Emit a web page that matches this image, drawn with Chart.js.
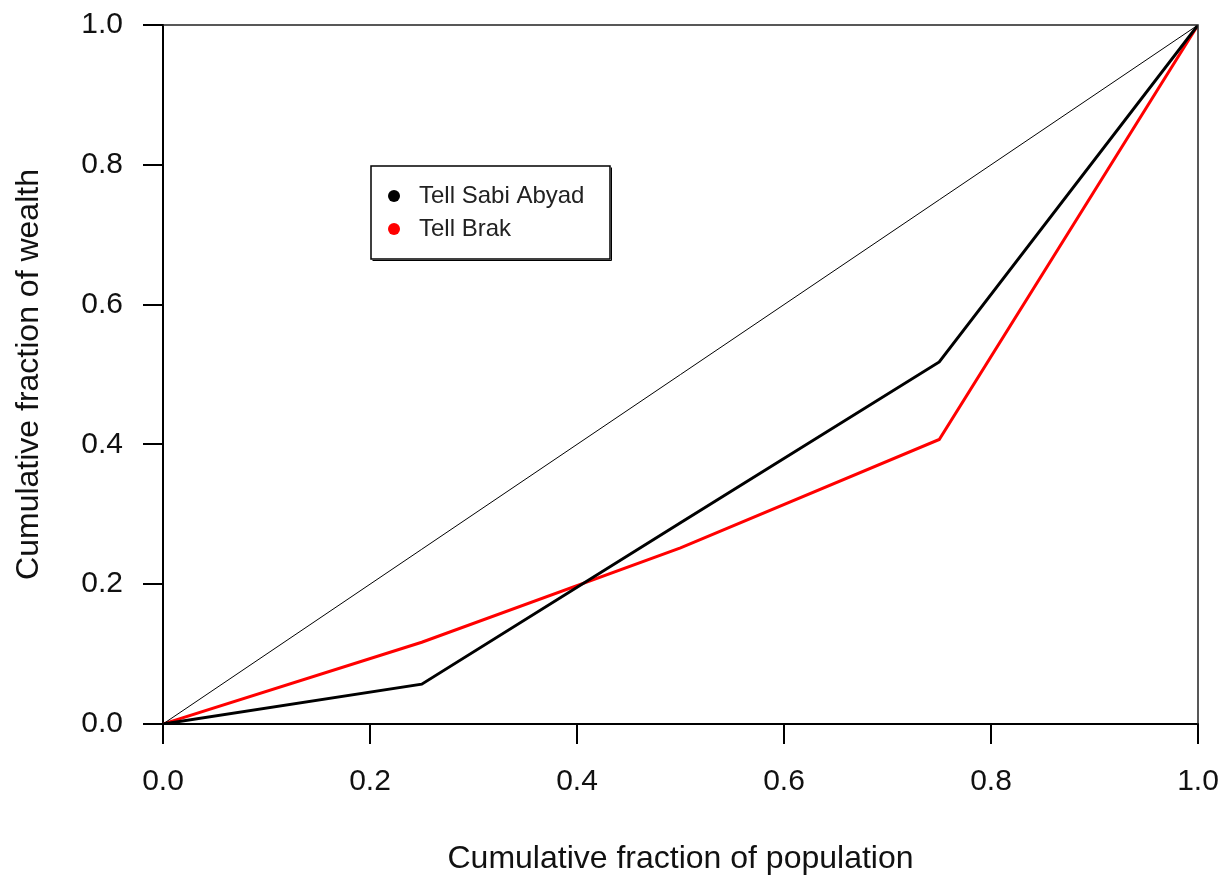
<!DOCTYPE html>
<html>
<head>
<meta charset="utf-8">
<script src="https://cdn.jsdelivr.net/npm/chart.js@4.4.1/dist/chart.umd.min.js"></script>
<style>
  html, body { margin: 0; padding: 0; background: #fff; }
  #wrap { width: 1229px; height: 879px; position: relative; }
</style>
</head>
<body>
<div id="wrap"><canvas id="c"></canvas></div>
<script>
// ---- data ----
const population = [0, 0.25, 0.5, 0.75, 1];
const sabiAbyad = [0, 0.057, 0.288, 0.518, 1];
const brak = [0, 0.117, 0.252, 0.407, 1];
const equalityX = [0, 1];
const equalityY = [0, 1];
const xTicks = [0, 0.2, 0.4, 0.6, 0.8, 1.0];
const yTicks = [0, 0.2, 0.4, 0.6, 0.8, 1.0];
const seriesNames = ['Tell Sabi Abyad', 'Tell Brak'];
const seriesColors = ['#000000', '#ff0000'];

const toPts = (xs, ys) => xs.map((x, i) => ({x: x, y: ys[i]}));

const FONT = '"Liberation Sans", Arial, sans-serif';

const framePlugin = {
  id: 'frame',
  afterDraw(chart) {
    const {ctx, chartArea: a} = chart;
    ctx.save();
    ctx.strokeStyle = '#222';
    ctx.lineWidth = 1.5;
    ctx.beginPath();
    ctx.moveTo(a.left, a.top);
    ctx.lineTo(a.right, a.top);
    ctx.lineTo(a.right, a.bottom);
    ctx.stroke();
    // legend
    const bx = 371, by = 166, bw = 239, bh = 93;
    ctx.fillStyle = '#fff';
    ctx.fillRect(bx, by, bw, bh);
    ctx.strokeStyle = '#000';
    ctx.lineWidth = 1.5;
    ctx.strokeRect(bx, by, bw, bh);
    ctx.lineWidth = 1;
    ctx.beginPath();
    ctx.moveTo(bx + 1.5, by + bh + 1.5);
    ctx.lineTo(bx + bw + 1.5, by + bh + 1.5);
    ctx.lineTo(bx + bw + 1.5, by + 1.5);
    ctx.stroke();
    ctx.font = '24px ' + FONT;
    ctx.textBaseline = 'middle';
    ctx.textAlign = 'left';
    const rows = [196, 229];
    seriesNames.forEach((name, i) => {
      ctx.fillStyle = seriesColors[i];
      ctx.beginPath();
      ctx.arc(394, rows[i], 6, 0, Math.PI * 2);
      ctx.fill();
      ctx.fillStyle = '#222';
      ctx.fillText(name, 419, rows[i]);
    });
    ctx.restore();
  }
};

new Chart(document.getElementById('c'), {
  type: 'scatter',
  data: {
    datasets: [
      {
        label: 'equality',
        data: toPts(equalityX, equalityY),
        showLine: true,
        borderColor: '#000',
        borderWidth: 1,
        pointRadius: 0,
        fill: false
      },
      {
        label: seriesNames[0],
        data: toPts(population, sabiAbyad),
        showLine: true,
        borderColor: seriesColors[0],
        borderWidth: 3,
        pointRadius: 0,
        fill: false
      },
      {
        label: seriesNames[1],
        data: toPts(population, brak),
        showLine: true,
        borderColor: seriesColors[1],
        borderWidth: 3,
        pointRadius: 0,
        fill: false
      }
    ]
  },
  options: {
    responsive: true,
    maintainAspectRatio: false,
    animation: false,
    layout: { padding: { top: 25, right: 31, left: 0, bottom: 0 } },
    plugins: { legend: { display: false }, tooltip: { enabled: false } },
    scales: {
      x: {
        type: 'linear',
        min: 0, max: 1,
        afterBuildTicks(scale) { scale.ticks = xTicks.map(v => ({value: v})); },
        afterFit(scale) { scale.height = 155; scale.paddingLeft = 0; scale.paddingRight = 0; },
        ticks: {
          callback: v => Number(v).toFixed(1),
          color: '#111',
          font: { family: FONT, size: 30 },
          padding: 20,
          maxRotation: 0
        },
        grid: { drawOnChartArea: false, drawTicks: true, tickLength: 20, color: '#000', lineWidth: 2 },
        border: { display: true, color: '#000', width: 2 },
        title: {
          display: true,
          text: 'Cumulative fraction of population',
          color: '#111',
          font: { family: FONT, size: 32 },
          padding: { top: 0, bottom: 1 }
        }
      },
      y: {
        type: 'linear',
        min: 0, max: 1,
        afterBuildTicks(scale) { scale.ticks = yTicks.map(v => ({value: v})); },
        afterFit(scale) { scale.width = 163; scale.paddingTop = 0; scale.paddingBottom = 0; },
        ticks: {
          callback: v => Number(v).toFixed(1),
          color: '#111',
          font: { family: FONT, size: 30 },
          padding: 20
        },
        grid: { drawOnChartArea: false, drawTicks: true, tickLength: 20, color: '#000', lineWidth: 2 },
        border: { display: true, color: '#000', width: 2 },
        title: {
          display: true,
          text: 'Cumulative fraction of wealth',
          color: '#111',
          font: { family: FONT, size: 32 },
          padding: { top: 10, bottom: 0 }
        }
      }
    }
  },
  plugins: [framePlugin]
});
</script>
</body>
</html>
